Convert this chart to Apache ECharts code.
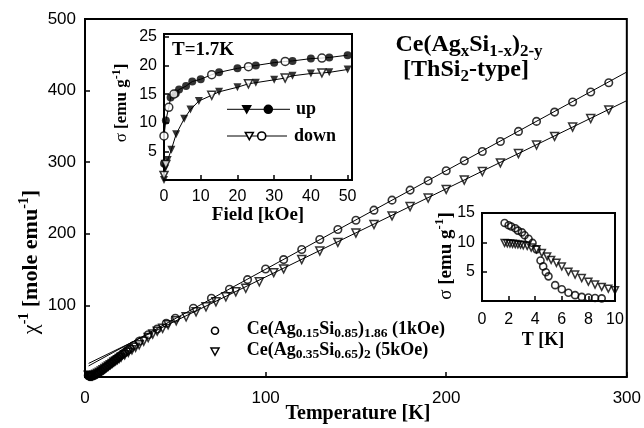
<!DOCTYPE html>
<html>
<head>
<meta charset="utf-8">
<script src="https://cdn.jsdelivr.net/npm/echarts@6/dist/echarts.min.js"></script>
<style>
html, body { margin: 0; padding: 0; background: #fff; }
#chart { width: 644px; height: 428px; }
</style>
</head>
<body>
<div id="chart"></div>
<script>
// main plot: inverse susceptibility vs temperature
var tempCirc = [1.8, 2.2, 2.6, 3, 3.5, 4, 5, 6, 7, 8, 9, 10, 11, 12, 13, 14, 15, 16, 17, 18, 19, 20, 21, 22, 23, 24, 25, 27, 30, 35, 40, 45, 50,
  60, 70, 80, 90, 100, 110, 120, 130, 140, 150, 160, 170, 180, 190, 200, 210, 220, 230, 240, 250, 260, 270, 280, 290];
var chiCirc = [2, 1.5, 1.2, 1, 1, 1.3, 2.2, 3.5, 5, 6.8, 8.5, 10.5, 12.5, 14.5, 16.5, 18.5, 20.5, 22.5, 24.5, 26.5, 28.5, 30.5, 32.3, 34, 36, 38, 40, 44, 50, 59, 67, 75, 82,
  96, 110, 122.5, 136, 150.8, 164, 178, 192, 206, 219, 233, 247, 261, 274, 288, 302, 315, 329, 343, 357, 370, 384, 398, 411];
var tempTri = [1.8, 2.2, 2.6, 3, 3.5, 4, 5, 6, 7, 8, 9, 10, 11, 12, 13, 14, 15, 16, 17, 18, 19, 20, 22, 24, 26, 28, 30, 32.5, 35, 37.5, 40, 43, 46, 50.5,
  56, 61.5, 67, 72.5, 78, 83.5, 89, 96.5, 104.5, 110, 120, 130, 140, 150, 160, 170, 180, 190, 200, 210, 220, 230, 240, 250, 260, 270, 280, 290];
var chiTri = [2.5, 2, 1.8, 1.6, 1.6, 1.8, 2.6, 3.8, 5.2, 6.8, 8.4, 10, 11.8, 13.6, 15.4, 17.2, 19, 20.8, 22.5, 24.2, 26, 27.7, 31, 34.5, 38, 41.5, 45, 50, 55, 60, 64, 68, 73, 78.6,
  84, 91, 98, 105, 112, 119, 124, 133, 145.7, 151, 164, 176, 188, 201, 213, 225, 238, 250, 262, 275, 287, 299, 312, 324, 336, 349, 361, 373];
var fitCircT = [2, 300], fitCircChi = [15.5, 426];
var fitTriT = [2, 300], fitTriChi = [19, 386];

// inset 1: sigma vs field at 1.7 K
var fieldUpCirc = [0, 0.5, 1.8, 3.2, 4.1, 6, 7.7, 10, 15, 20, 25, 30, 35, 40, 45, 50];
var sigmaUpCirc = [2.9, 10.4, 14.4, 15.1, 15.8, 16.4, 17.2, 17.6, 18.8, 19.5, 20, 20.5, 20.8, 21.2, 21.4, 21.8];
var fieldDownCirc = [0, 1.3, 2.7, 13, 23, 33, 43];
var sigmaDownCirc = [7.7, 12.7, 15, 18.4, 19.8, 20.7, 21.3];
var fieldUpTri = [0, 0.3, 1, 2, 3.3, 5.5, 7.2, 9.5, 15, 20, 25, 30, 35, 40, 45, 50];
var sigmaUpTri = [0, 2, 3.5, 5.3, 8, 10.7, 12.3, 13.8, 15.4, 16.2, 17, 17.5, 18.2, 18.6, 18.8, 19.3];
var fieldDownTri = [0, 0.5, 13, 23, 33, 43];
var sigmaDownTri = [0.8, 2.7, 14.8, 16.8, 17.8, 18.7];

// inset 2: sigma vs temperature
var tLowCirc = [1.7, 2, 2.2, 2.5, 2.7, 3, 3.2, 3.5, 3.8, 4.1, 4.4, 4.6, 4.8, 5, 5.5, 6, 6.5, 7, 7.5, 8, 8.5, 9];
var sigLowCirc = [13.3, 12.9, 12.7, 12.4, 12, 11.7, 11.2, 10.6, 9.9, 8.8, 6.9, 5.9, 4.9, 4.2, 2.7, 2, 1.4, 1, 0.7, 0.6, 0.5, 0.45];
var tLowTri = [1.7, 1.9, 2.1, 2.3, 2.5, 2.7, 2.9, 3.1, 3.4, 3.7, 4.1, 4.5, 4.9, 5.2, 5.6, 6, 6.5, 7, 7.5, 8, 8.5, 9, 9.5, 10];
var sigLowTri = [9.9, 9.85, 9.8, 9.75, 9.7, 9.65, 9.6, 9.5, 9.4, 9.1, 8.8, 8.2, 7.6, 7, 6.5, 5.9, 5, 4.5, 3.9, 3.3, 2.8, 2.4, 2.1, 1.85];

var SERIF = "'Liberation Serif', 'Times New Roman', serif";
var SANS = "'Liberation Sans', Arial, sans-serif";

function zip(xs, ys) {
  return xs.map(function (x, i) { return [x, ys[i]]; });
}
function sortedCurve(a, b) {
  return a.concat(b).sort(function (p, q) { return p[0] - q[0]; });
}

var chart = echarts.init(document.getElementById('chart'));

function rich(size, small) {
  return {
    n: { fontFamily: SERIF, fontWeight: 'bold', fontSize: size, lineHeight: size + 6, color: '#000' },
    g: { fontFamily: SERIF, fontWeight: 'normal', fontSize: size, lineHeight: size + 6, color: '#000' },
    s: { fontFamily: SERIF, fontWeight: 'bold', fontSize: small, lineHeight: small, verticalAlign: 'bottom', color: '#000' },
    p: { fontFamily: SERIF, fontWeight: 'bold', fontSize: small, lineHeight: small, verticalAlign: 'top', color: '#000' }
  };
}

function label(text, x, y, size, small, rot, align) {
  return {
    type: 'text', x: x, y: y, rotation: rot || 0, z: 100,
    style: {
      text: text, rich: rich(size, small), fill: '#000',
      font: 'bold ' + size + 'px ' + SERIF,
      align: align || 'center', textAlign: align || 'center',
      verticalAlign: 'middle', textVerticalAlign: 'middle'
    }
  };
}

function triDown(cx, cy, s, filled) {
  var h = s * 0.45;
  return {
    type: 'polygon', z: 100,
    shape: { points: [[cx - s / 2, cy - h], [cx + s / 2, cy - h], [cx, cy + h]] },
    style: { fill: filled ? '#000' : '#fff', stroke: '#000', lineWidth: 1.5 }
  };
}
function dot(cx, cy, r, filled) {
  return {
    type: 'circle', z: 100, shape: { cx: cx, cy: cy, r: r },
    style: { fill: filled ? '#000' : '#fff', stroke: '#000', lineWidth: 1.6 }
  };
}

function axis(gi, min, max, interval, size, margin, skip) {
  return {
    type: 'value', gridIndex: gi, min: min, max: max, interval: interval,
    axisLine: { show: false },
    axisTick: { show: true, inside: true, length: 5, lineStyle: { color: '#000', width: 1.5 } },
    splitLine: { show: false },
    axisLabel: {
      color: '#000', fontFamily: SANS, fontSize: size, margin: margin,
      formatter: function (v) { return skip(v) ? '' : String(v); }
    }
  };
}

var openCirc = { color: 'rgba(255,255,255,0)', borderColor: '#000', borderWidth: 1.6 };
var openTri = { color: 'rgba(255,255,255,0)', borderColor: '#000', borderWidth: 1.5 };

var option = {
  animation: false,
  backgroundColor: '#fff',
  grid: [
    { left: 85, top: 19, width: 544, height: 358, show: true, borderColor: '#000', borderWidth: 2 },
    { left: 164, top: 34, width: 188, height: 146, show: true, borderColor: '#000', borderWidth: 2, backgroundColor: '#fff' },
    { left: 482, top: 213, width: 133, height: 88, show: true, borderColor: '#000', borderWidth: 2, backgroundColor: '#fff' }
  ],
  xAxis: [
    axis(0, 0, 300, 100, 17, 13, function () { return false; }),
    axis(1, 0, 51.2, 10, 16, 9, function (v) { return v % 10 !== 0; }),
    axis(2, 0, 10, 2, 16, 11, function () { return false; })
  ],
  yAxis: [
    axis(0, 0, 500, 100, 17, 9, function (v) { return v === 0; }),
    axis(1, 0, 25.5, 5, 16, 7, function (v) { return v === 0 || v % 5 !== 0; }),
    axis(2, 0, 15, 5, 16, 7, function (v) { return v === 0; })
  ],
  series: [
    { type: 'line', xAxisIndex: 0, yAxisIndex: 0, data: zip(fitCircT, fitCircChi), symbol: 'none',
      lineStyle: { color: '#000', width: 1 }, z: 1 },
    { type: 'line', xAxisIndex: 0, yAxisIndex: 0, data: zip(fitTriT, fitTriChi), symbol: 'none',
      lineStyle: { color: '#000', width: 1 }, z: 1 },
    { type: 'scatter', xAxisIndex: 0, yAxisIndex: 0, data: zip(tempCirc, chiCirc),
      symbol: 'circle', symbolSize: 7.5, itemStyle: openCirc },
    { type: 'scatter', xAxisIndex: 0, yAxisIndex: 0, data: zip(tempTri, chiTri),
      symbol: 'triangle', symbolRotate: 180, symbolSize: 8, itemStyle: openTri },

    { type: 'line', xAxisIndex: 1, yAxisIndex: 1, z: 5,
      data: sortedCurve(zip(fieldUpCirc, sigmaUpCirc), zip(fieldDownCirc, sigmaDownCirc)),
      symbol: 'none', lineStyle: { color: '#000', width: 1 } },
    { type: 'line', xAxisIndex: 1, yAxisIndex: 1, z: 5,
      data: sortedCurve(zip(fieldUpTri, sigmaUpTri), zip(fieldDownTri, sigmaDownTri)),
      symbol: 'none', lineStyle: { color: '#000', width: 1 } },
    { type: 'scatter', xAxisIndex: 1, yAxisIndex: 1, z: 6, data: zip(fieldUpCirc, sigmaUpCirc),
      symbol: 'circle', symbolSize: 8, itemStyle: { color: '#000' } },
    { type: 'scatter', xAxisIndex: 1, yAxisIndex: 1, z: 6, data: zip(fieldDownCirc, sigmaDownCirc),
      symbol: 'circle', symbolSize: 8, itemStyle: { color: '#fff', borderColor: '#000', borderWidth: 1.5 } },
    { type: 'scatter', xAxisIndex: 1, yAxisIndex: 1, z: 6, data: zip(fieldUpTri, sigmaUpTri),
      symbol: 'triangle', symbolRotate: 180, symbolSize: 8, itemStyle: { color: '#000' } },
    { type: 'scatter', xAxisIndex: 1, yAxisIndex: 1, z: 6, data: zip(fieldDownTri, sigmaDownTri),
      symbol: 'triangle', symbolRotate: 180, symbolSize: 8, itemStyle: { color: '#fff', borderColor: '#000', borderWidth: 1.5 } },

    { type: 'scatter', xAxisIndex: 2, yAxisIndex: 2, z: 6, data: zip(tLowCirc, sigLowCirc),
      symbol: 'circle', symbolSize: 7, itemStyle: openCirc },
    { type: 'scatter', xAxisIndex: 2, yAxisIndex: 2, z: 6, data: zip(tLowTri, sigLowTri),
      symbol: 'triangle', symbolRotate: 180, symbolSize: 7, itemStyle: openTri }
  ],
  graphic: [
    // titles
    label('{n|Ce(Ag}{s|x}{n|Si}{s|1-x}{n|)}{s|2-y}', 469, 45, 24, 17),
    label('{n|[ThSi}{s|2}{n|-type]}', 466, 70, 24, 17),
    label('{n|T=1.7K}', 172, 50, 19, 13, 0, 'left'),

    // axis names
    label('{n|Temperature [K]}', 358, 414, 20, 14),
    label('{g|\u03c7}{p|-1}{n| [mole emu}{p|-1}{n|]}', 31, 262, 22, 14, Math.PI / 2),
    label('{n|Field [kOe]}', 258, 215, 19, 13),
    label('{g|\u03c3}{n| [emu g}{p|-1}{n|]}', 122, 103, 17, 12, Math.PI / 2),
    label('{n|T [K]}', 543, 340, 18, 13),
    label('{g|\u03c3}{n| [emu g}{p|-1}{n|]}', 446, 256, 19, 13, Math.PI / 2),

    // main legend
    dot(215, 330.7, 3.5, false),
    triDown(215, 351.7, 8, false),
    label('{n|Ce(Ag}{s|0.15}{n|Si}{s|0.85}{n|)}{s|1.86}{n| (1kOe)}', 246.7, 329, 18, 13.5, 0, 'left'),
    label('{n|Ce(Ag}{s|0.35}{n|Si}{s|0.65}{n|)}{s|2}{n| (5kOe)}', 246.7, 350, 18, 13.5, 0, 'left'),

    // inset legend
    { type: 'line', z: 99, shape: { x1: 227, y1: 109.3, x2: 290, y2: 109.3 }, style: { stroke: '#000', lineWidth: 1 } },
    triDown(246.7, 109.3, 8, true),
    dot(268.3, 109.3, 4, true),
    label('{n|up}', 296, 109.3, 18, 13, 0, 'left'),
    { type: 'line', z: 99, shape: { x1: 227, y1: 136, x2: 287, y2: 136 }, style: { stroke: '#000', lineWidth: 1 } },
    triDown(249.3, 136, 8, false),
    dot(261.7, 136, 4, false),
    label('{n|down}', 294, 136, 18, 13, 0, 'left')
  ]
};

chart.setOption(option);
</script>
</body>
</html>
